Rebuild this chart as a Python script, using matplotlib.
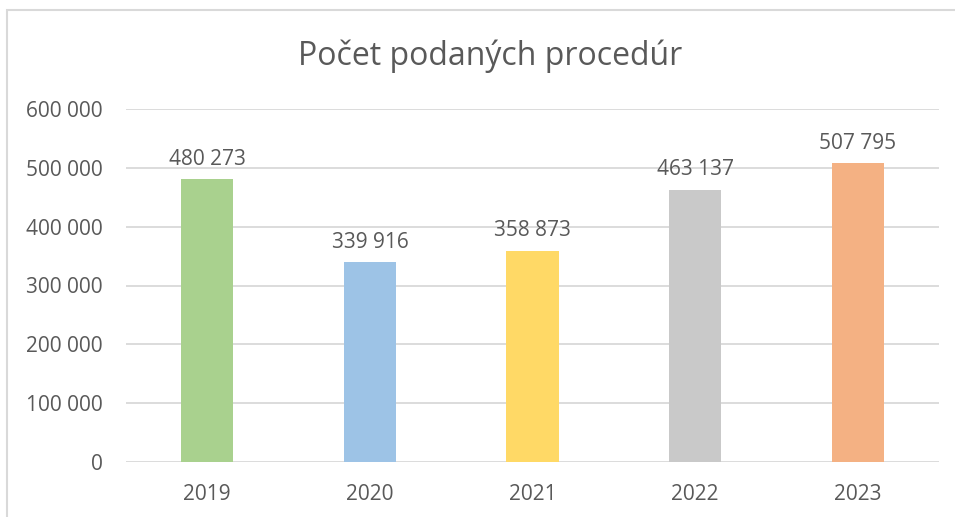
import matplotlib.pyplot as plt
from matplotlib.patches import Rectangle
from matplotlib.ticker import FuncFormatter

# data
roky = ["2019", "2020", "2021", "2022", "2023"]
hodnoty = [480273, 339916, 358873, 463137, 507795]
farby = ["#A9D18E", "#9DC3E6", "#FFD966", "#C9C9C9", "#F4B183"]

plt.rcParams['font.family'] = ['Open Sans', 'DejaVu Sans']
sivy_text = "#595959"

fig = plt.figure(figsize=(9.55, 5.17), dpi=100)
ax = fig.add_axes([126/955, 1 - 462/517, (939-126)/955, (462-109)/517])

# ramik okolo grafu (vidno len hornu a lavu stranu)
fig.patches.append(Rectangle((7/955, -0.1), 1.2, 1 - 10/517 + 0.1, transform=fig.transFigure,
                             fill=False, edgecolor="#D9D9D9", linewidth=1.5))

x = range(len(roky))
bars = ax.bar(x, hodnoty, width=0.32, color=farby, zorder=3)

def medzery(v, pos=None):
    return f"{int(round(v)):,}".replace(",", " ")

for b, v in zip(bars, hodnoty):
    ax.text(b.get_x() + b.get_width()/2, v + 16000, medzery(v), ha="center", va="bottom",
            fontsize=15, color=sivy_text)

ax.set_xlim(-0.5, len(roky) - 0.5)
ax.set_ylim(0, 600000)
ax.set_yticks(range(0, 600001, 100000))
ax.yaxis.set_major_formatter(FuncFormatter(medzery))
ax.set_xticks(list(x))
ax.set_xticklabels(roky)
ax.tick_params(axis="both", length=0, labelsize=15, labelcolor=sivy_text)
ax.tick_params(axis="y", pad=17)
ax.tick_params(axis="x", pad=16)
ax.grid(axis="y", color="#D9D9D9", linewidth=1.3, zorder=0)
for s in ax.spines.values():
    s.set_visible(False)

fig.text(490/955, 1 - 56/517, "Počet podaných procedúr", ha="center", va="center",
         fontsize=23, color=sivy_text)

plt.savefig("out.png", dpi=100)
